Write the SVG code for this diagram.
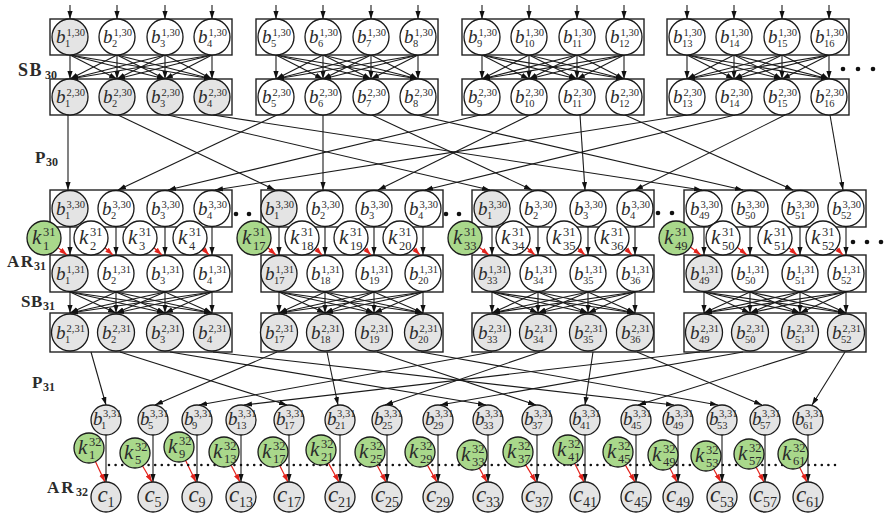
<svg xmlns="http://www.w3.org/2000/svg" width="888" height="513" viewBox="0 0 888 513">
<defs>
<marker id="ah" viewBox="0 0 8 6" refX="8" refY="3" markerWidth="8" markerHeight="6" markerUnits="userSpaceOnUse" orient="auto"><path d="M0,0.4L8,3L0,5.6z" fill="#111"/></marker>
<marker id="ahr" viewBox="0 0 8 6" refX="8" refY="3" markerWidth="8" markerHeight="6" markerUnits="userSpaceOnUse" orient="auto"><path d="M0,0.4L8,3L0,5.6z" fill="#e3221b"/></marker>
</defs>
<style>
.box{fill:none;stroke:#222;stroke-width:1.4}
.ln path{stroke:#1a1a1a;stroke-width:1.1;fill:none;marker-end:url(#ah)}
.rd path{stroke:#e3221b;stroke-width:1.2;fill:none;marker-end:url(#ahr)}
.cw{fill:#fff;stroke:#1a1a1a;stroke-width:1.3}
.cg{fill:#e4e4e4;stroke:#1a1a1a;stroke-width:1.3}
.ck{fill:#a9d88b;stroke:#1a1a1a;stroke-width:1.3}
text{font-family:"Liberation Serif","Times New Roman",serif;fill:#2b2b2b}
.v{font-style:italic;font-size:19px}
.s{font-style:normal;font-size:10.5px}
.kv{font-style:italic;font-size:21px}
.ks{font-style:normal;font-size:12.5px}
.cv{font-style:italic;font-size:23px}
.cs{font-style:normal;font-size:14px}
.lab{font-weight:bold;font-size:17px;fill:#111}
.lsub{font-size:12px;letter-spacing:0}
.dot{fill:#111}
</style>
<rect width="888" height="513" fill="#fff"/>

<!-- register blocks -->
<g id="blocks" class="box">
<rect x="50" y="19" width="182" height="36"/><rect x="256" y="19" width="182" height="36"/><rect x="462" y="19" width="182" height="36"/><rect x="667" y="19" width="182" height="36"/>
<rect x="50" y="79" width="182" height="36"/><rect x="256" y="79" width="182" height="36"/><rect x="462" y="79" width="182" height="36"/><rect x="667" y="79" width="182" height="36"/>
<rect x="50" y="190" width="182" height="37"/><rect x="261" y="190" width="182" height="37"/><rect x="472" y="190" width="182" height="37"/><rect x="684" y="190" width="182" height="37"/>
<rect x="50" y="255" width="182" height="37"/><rect x="261" y="255" width="182" height="37"/><rect x="472" y="255" width="182" height="37"/><rect x="684" y="255" width="182" height="37"/>
<rect x="50" y="313" width="182" height="39"/><rect x="261" y="313" width="182" height="39"/><rect x="472" y="313" width="182" height="39"/><rect x="684" y="313" width="182" height="39"/>
</g>

<!-- connectors -->
<g id="connectors">
<g class="ln">
<!-- inputs -->
<path d="M70 5V19"/><path d="M117 5V19"/><path d="M165 5V19"/><path d="M212 5V19"/>
<path d="M276 5V19"/><path d="M323 5V19"/><path d="M371 5V19"/><path d="M418 5V19"/>
<path d="M482 5V19"/><path d="M529 5V19"/><path d="M577 5V19"/><path d="M624 5V19"/>
<path d="M687 5V19"/><path d="M734 5V19"/><path d="M782 5V19"/><path d="M829 5V19"/>
<!-- SB30 -->
<path d="M70 55L70 79"/><path d="M70 55L117 79"/><path d="M70 55L165 79"/><path d="M70 55L212 79"/>
<path d="M117 55L70 79"/><path d="M117 55L117 79"/><path d="M117 55L165 79"/><path d="M117 55L212 79"/>
<path d="M165 55L70 79"/><path d="M165 55L117 79"/><path d="M165 55L165 79"/><path d="M165 55L212 79"/>
<path d="M212 55L70 79"/><path d="M212 55L117 79"/><path d="M212 55L165 79"/><path d="M212 55L212 79"/>
<path d="M276 55L276 79"/><path d="M276 55L323 79"/><path d="M276 55L371 79"/><path d="M276 55L418 79"/>
<path d="M323 55L276 79"/><path d="M323 55L323 79"/><path d="M323 55L371 79"/><path d="M323 55L418 79"/>
<path d="M371 55L276 79"/><path d="M371 55L323 79"/><path d="M371 55L371 79"/><path d="M371 55L418 79"/>
<path d="M418 55L276 79"/><path d="M418 55L323 79"/><path d="M418 55L371 79"/><path d="M418 55L418 79"/>
<path d="M482 55L482 79"/><path d="M482 55L529 79"/><path d="M482 55L577 79"/><path d="M482 55L624 79"/>
<path d="M529 55L482 79"/><path d="M529 55L529 79"/><path d="M529 55L577 79"/><path d="M529 55L624 79"/>
<path d="M577 55L482 79"/><path d="M577 55L529 79"/><path d="M577 55L577 79"/><path d="M577 55L624 79"/>
<path d="M624 55L482 79"/><path d="M624 55L529 79"/><path d="M624 55L577 79"/><path d="M624 55L624 79"/>
<path d="M687 55L687 79"/><path d="M687 55L734 79"/><path d="M687 55L782 79"/><path d="M687 55L829 79"/>
<path d="M734 55L687 79"/><path d="M734 55L734 79"/><path d="M734 55L782 79"/><path d="M734 55L829 79"/>
<path d="M782 55L687 79"/><path d="M782 55L734 79"/><path d="M782 55L782 79"/><path d="M782 55L829 79"/>
<path d="M829 55L687 79"/><path d="M829 55L734 79"/><path d="M829 55L782 79"/><path d="M829 55L829 79"/>
<!-- P30 -->
<path d="M68 115L68 190"/><path d="M118 115L275 190"/><path d="M168 115L490 190"/><path d="M213 115L702 190"/>
<path d="M277 115L118 190"/><path d="M323 115L323 190"/><path d="M372 115L532 190"/><path d="M417 115L743 190"/>
<path d="M480 115L168 190"/><path d="M530 115L378 190"/><path d="M580 115L585 190"/><path d="M625 115L793 190"/>
<path d="M687 115L215 190"/><path d="M735 115L425 190"/><path d="M785 115L635 190"/><path d="M830 115L843 190"/>
<!-- AR31 state path -->
<path d="M70 227V255"/><path d="M116 227V255"/><path d="M165 227V255"/><path d="M212 227V255"/>
<path d="M279 227V255"/><path d="M325 227V255"/><path d="M374 227V255"/><path d="M423 227V255"/>
<path d="M492 227V255"/><path d="M538 227V255"/><path d="M588 227V255"/><path d="M635 227V255"/>
<path d="M704 227V255"/><path d="M750 227V255"/><path d="M800 227V255"/><path d="M846 227V255"/>
<!-- SB31 -->
<path d="M70 292L70 313"/><path d="M70 292L116 313"/><path d="M70 292L165 313"/><path d="M70 292L212 313"/>
<path d="M116 292L70 313"/><path d="M116 292L116 313"/><path d="M116 292L165 313"/><path d="M116 292L212 313"/>
<path d="M165 292L70 313"/><path d="M165 292L116 313"/><path d="M165 292L165 313"/><path d="M165 292L212 313"/>
<path d="M212 292L70 313"/><path d="M212 292L116 313"/><path d="M212 292L165 313"/><path d="M212 292L212 313"/>
<path d="M279 292L279 313"/><path d="M279 292L325 313"/><path d="M279 292L374 313"/><path d="M279 292L423 313"/>
<path d="M325 292L279 313"/><path d="M325 292L325 313"/><path d="M325 292L374 313"/><path d="M325 292L423 313"/>
<path d="M374 292L279 313"/><path d="M374 292L325 313"/><path d="M374 292L374 313"/><path d="M374 292L423 313"/>
<path d="M423 292L279 313"/><path d="M423 292L325 313"/><path d="M423 292L374 313"/><path d="M423 292L423 313"/>
<path d="M492 292L492 313"/><path d="M492 292L538 313"/><path d="M492 292L588 313"/><path d="M492 292L635 313"/>
<path d="M538 292L492 313"/><path d="M538 292L538 313"/><path d="M538 292L588 313"/><path d="M538 292L635 313"/>
<path d="M588 292L492 313"/><path d="M588 292L538 313"/><path d="M588 292L588 313"/><path d="M588 292L635 313"/>
<path d="M635 292L492 313"/><path d="M635 292L538 313"/><path d="M635 292L588 313"/><path d="M635 292L635 313"/>
<path d="M704 292L704 313"/><path d="M704 292L750 313"/><path d="M704 292L800 313"/><path d="M704 292L846 313"/>
<path d="M750 292L704 313"/><path d="M750 292L750 313"/><path d="M750 292L800 313"/><path d="M750 292L846 313"/>
<path d="M800 292L704 313"/><path d="M800 292L750 313"/><path d="M800 292L800 313"/><path d="M800 292L846 313"/>
<path d="M846 292L704 313"/><path d="M846 292L750 313"/><path d="M846 292L800 313"/><path d="M846 292L846 313"/>
<!-- P31 -->
<path d="M91 352L106 405"/><path d="M120 352L287 405"/><path d="M170 352L486 405"/><path d="M213 352L674 405"/>
<path d="M277 352L155 405"/><path d="M327 352L338 405"/><path d="M377 352L536 405"/><path d="M421 352L718 405"/>
<path d="M492 352L199 405"/><path d="M540 352L385 405"/><path d="M593 352L585 405"/><path d="M637 352L762 405"/>
<path d="M700 352L244 405"/><path d="M743 352L440 405"/><path d="M807 352L638 405"/><path d="M845 352L812 405"/>
<!-- AR32 state path -->
<path d="M106 435V482"/><path d="M153 435V482"/><path d="M197 435V482"/><path d="M241 435V482"/>
<path d="M289 435V482"/><path d="M340 435V482"/><path d="M387 435V482"/><path d="M438 435V482"/>
<path d="M488 435V482"/><path d="M537 435V482"/><path d="M585 435V482"/><path d="M636 435V482"/>
<path d="M678 435V482"/><path d="M722 435V482"/><path d="M765 435V482"/><path d="M808 435V482"/>
</g>
<!-- round keys -->
<g class="rd">
<path d="M58.1 247.6L67 255"/><path d="M104.9 247.8L113 255"/><path d="M153.9 247.8L162 255"/><path d="M203.2 248.7L209 255"/>
<path d="M267.9 247.8L276 255"/><path d="M315.5 248.4L322 255"/><path d="M364.5 248.4L371 255"/><path d="M413.5 248.4L420 255"/>
<path d="M479.2 247.3L489 255"/><path d="M526.9 247.8L535 255"/><path d="M577.7 248.1L585 255"/><path d="M625.5 248.4L632 255"/>
<path d="M690.4 247.1L701 255"/><path d="M737.2 247.3L747 255"/><path d="M788.9 247.8L797 255"/><path d="M836.5 248.4L843 255"/>
<path d="M95.4 461.6L105 482"/><path d="M142.6 466L152 482"/><path d="M185.6 460.5L196 482"/><path d="M231.1 465.2L240 482"/>
<path d="M279.7 465.4L288 482"/><path d="M328.4 463.1L339 482"/><path d="M377.1 465.2L386 482"/><path d="M427.4 465.1L437 482"/>
<path d="M479.3 468.1L487 482"/><path d="M525.7 464.9L536 482"/><path d="M574.7 463.4L584 482"/><path d="M625.4 465.1L635 482"/>
<path d="M669.9 468.3L677 482"/><path d="M713.5 469L721 482"/><path d="M756.1 467.2L764 482"/><path d="M799.7 467.4L807 482"/>
</g>
</g>

<!-- ellipsis marks -->
<g id="ellipses" class="dot">
<circle cx="843" cy="69" r="2.3"/><circle cx="858" cy="69" r="2.3"/><circle cx="873" cy="69" r="2.3"/>
<circle cx="236" cy="214" r="2.3"/><circle cx="249" cy="214" r="2.3"/>
<circle cx="446" cy="214" r="2.3"/><circle cx="459" cy="214" r="2.3"/>
<circle cx="658" cy="213" r="2.3"/><circle cx="672" cy="213" r="2.3"/>
<circle cx="853" cy="242" r="2.3"/><circle cx="867" cy="242" r="2.3"/><circle cx="881" cy="242" r="2.3"/>
<line x1="109" y1="465" x2="836" y2="465" stroke="#111" stroke-width="2.6" stroke-linecap="round" stroke-dasharray="0 6.6"/>
</g>

<!-- SB30 inputs -->
<g id="row-b130">
<g id="n1-1" transform="translate(70 37)"><circle class="cg" r="18"/><text class="v" x="-14" y="6">b<tspan class="s" x="-3.5" y="-1">1,30</tspan><tspan class="s" x="-5" y="10">1</tspan></text></g>
<g id="n1-2" transform="translate(117 37)"><circle class="cw" r="18"/><text class="v" x="-14" y="6">b<tspan class="s" x="-3.5" y="-1">1,30</tspan><tspan class="s" x="-5" y="10">2</tspan></text></g>
<g id="n1-3" transform="translate(165 37)"><circle class="cw" r="18"/><text class="v" x="-14" y="6">b<tspan class="s" x="-3.5" y="-1">1,30</tspan><tspan class="s" x="-5" y="10">3</tspan></text></g>
<g id="n1-4" transform="translate(212 37)"><circle class="cw" r="18"/><text class="v" x="-14" y="6">b<tspan class="s" x="-3.5" y="-1">1,30</tspan><tspan class="s" x="-5" y="10">4</tspan></text></g>
<g id="n1-5" transform="translate(276 37)"><circle class="cw" r="18"/><text class="v" x="-14" y="6">b<tspan class="s" x="-3.5" y="-1">1,30</tspan><tspan class="s" x="-5" y="10">5</tspan></text></g>
<g id="n1-6" transform="translate(323 37)"><circle class="cw" r="18"/><text class="v" x="-14" y="6">b<tspan class="s" x="-3.5" y="-1">1,30</tspan><tspan class="s" x="-5" y="10">6</tspan></text></g>
<g id="n1-7" transform="translate(371 37)"><circle class="cw" r="18"/><text class="v" x="-14" y="6">b<tspan class="s" x="-3.5" y="-1">1,30</tspan><tspan class="s" x="-5" y="10">7</tspan></text></g>
<g id="n1-8" transform="translate(418 37)"><circle class="cw" r="18"/><text class="v" x="-14" y="6">b<tspan class="s" x="-3.5" y="-1">1,30</tspan><tspan class="s" x="-5" y="10">8</tspan></text></g>
<g id="n1-9" transform="translate(482 37)"><circle class="cw" r="18"/><text class="v" x="-14" y="6">b<tspan class="s" x="-3.5" y="-1">1,30</tspan><tspan class="s" x="-5" y="10">9</tspan></text></g>
<g id="n1-10" transform="translate(529 37)"><circle class="cw" r="18"/><text class="v" x="-14" y="6">b<tspan class="s" x="-3.5" y="-1">1,30</tspan><tspan class="s" x="-5" y="10">10</tspan></text></g>
<g id="n1-11" transform="translate(577 37)"><circle class="cw" r="18"/><text class="v" x="-14" y="6">b<tspan class="s" x="-3.5" y="-1">1,30</tspan><tspan class="s" x="-5" y="10">11</tspan></text></g>
<g id="n1-12" transform="translate(624 37)"><circle class="cw" r="18"/><text class="v" x="-14" y="6">b<tspan class="s" x="-3.5" y="-1">1,30</tspan><tspan class="s" x="-5" y="10">12</tspan></text></g>
<g id="n1-13" transform="translate(687 37)"><circle class="cw" r="18"/><text class="v" x="-14" y="6">b<tspan class="s" x="-3.5" y="-1">1,30</tspan><tspan class="s" x="-5" y="10">13</tspan></text></g>
<g id="n1-14" transform="translate(734 37)"><circle class="cw" r="18"/><text class="v" x="-14" y="6">b<tspan class="s" x="-3.5" y="-1">1,30</tspan><tspan class="s" x="-5" y="10">14</tspan></text></g>
<g id="n1-15" transform="translate(782 37)"><circle class="cw" r="18"/><text class="v" x="-14" y="6">b<tspan class="s" x="-3.5" y="-1">1,30</tspan><tspan class="s" x="-5" y="10">15</tspan></text></g>
<g id="n1-16" transform="translate(829 37)"><circle class="cw" r="18"/><text class="v" x="-14" y="6">b<tspan class="s" x="-3.5" y="-1">1,30</tspan><tspan class="s" x="-5" y="10">16</tspan></text></g>
</g>

<!-- SB30 outputs -->
<g id="row-b230">
<g id="n2-1" transform="translate(70 97)"><circle class="cg" r="18"/><text class="v" x="-14" y="6">b<tspan class="s" x="-3.5" y="-1">2,30</tspan><tspan class="s" x="-5" y="10">1</tspan></text></g>
<g id="n2-2" transform="translate(117 97)"><circle class="cg" r="18"/><text class="v" x="-14" y="6">b<tspan class="s" x="-3.5" y="-1">2,30</tspan><tspan class="s" x="-5" y="10">2</tspan></text></g>
<g id="n2-3" transform="translate(165 97)"><circle class="cg" r="18"/><text class="v" x="-14" y="6">b<tspan class="s" x="-3.5" y="-1">2,30</tspan><tspan class="s" x="-5" y="10">3</tspan></text></g>
<g id="n2-4" transform="translate(212 97)"><circle class="cg" r="18"/><text class="v" x="-14" y="6">b<tspan class="s" x="-3.5" y="-1">2,30</tspan><tspan class="s" x="-5" y="10">4</tspan></text></g>
<g id="n2-5" transform="translate(276 97)"><circle class="cw" r="18"/><text class="v" x="-14" y="6">b<tspan class="s" x="-3.5" y="-1">2,30</tspan><tspan class="s" x="-5" y="10">5</tspan></text></g>
<g id="n2-6" transform="translate(323 97)"><circle class="cw" r="18"/><text class="v" x="-14" y="6">b<tspan class="s" x="-3.5" y="-1">2,30</tspan><tspan class="s" x="-5" y="10">6</tspan></text></g>
<g id="n2-7" transform="translate(371 97)"><circle class="cw" r="18"/><text class="v" x="-14" y="6">b<tspan class="s" x="-3.5" y="-1">2,30</tspan><tspan class="s" x="-5" y="10">7</tspan></text></g>
<g id="n2-8" transform="translate(418 97)"><circle class="cw" r="18"/><text class="v" x="-14" y="6">b<tspan class="s" x="-3.5" y="-1">2,30</tspan><tspan class="s" x="-5" y="10">8</tspan></text></g>
<g id="n2-9" transform="translate(482 97)"><circle class="cw" r="18"/><text class="v" x="-14" y="6">b<tspan class="s" x="-3.5" y="-1">2,30</tspan><tspan class="s" x="-5" y="10">9</tspan></text></g>
<g id="n2-10" transform="translate(529 97)"><circle class="cw" r="18"/><text class="v" x="-14" y="6">b<tspan class="s" x="-3.5" y="-1">2,30</tspan><tspan class="s" x="-5" y="10">10</tspan></text></g>
<g id="n2-11" transform="translate(577 97)"><circle class="cw" r="18"/><text class="v" x="-14" y="6">b<tspan class="s" x="-3.5" y="-1">2,30</tspan><tspan class="s" x="-5" y="10">11</tspan></text></g>
<g id="n2-12" transform="translate(624 97)"><circle class="cw" r="18"/><text class="v" x="-14" y="6">b<tspan class="s" x="-3.5" y="-1">2,30</tspan><tspan class="s" x="-5" y="10">12</tspan></text></g>
<g id="n2-13" transform="translate(687 97)"><circle class="cw" r="18"/><text class="v" x="-14" y="6">b<tspan class="s" x="-3.5" y="-1">2,30</tspan><tspan class="s" x="-5" y="10">13</tspan></text></g>
<g id="n2-14" transform="translate(734 97)"><circle class="cw" r="18"/><text class="v" x="-14" y="6">b<tspan class="s" x="-3.5" y="-1">2,30</tspan><tspan class="s" x="-5" y="10">14</tspan></text></g>
<g id="n2-15" transform="translate(782 97)"><circle class="cw" r="18"/><text class="v" x="-14" y="6">b<tspan class="s" x="-3.5" y="-1">2,30</tspan><tspan class="s" x="-5" y="10">15</tspan></text></g>
<g id="n2-16" transform="translate(829 97)"><circle class="cw" r="18"/><text class="v" x="-14" y="6">b<tspan class="s" x="-3.5" y="-1">2,30</tspan><tspan class="s" x="-5" y="10">16</tspan></text></g>
</g>

<!-- P30 outputs -->
<g id="row-b330">
<g id="n3-1" transform="translate(70 208.5)"><circle class="cg" r="18"/><text class="v" x="-14" y="6">b<tspan class="s" x="-3.5" y="-1">3,30</tspan><tspan class="s" x="-5" y="10">1</tspan></text></g>
<g id="n3-2" transform="translate(116 208.5)"><circle class="cw" r="18"/><text class="v" x="-14" y="6">b<tspan class="s" x="-3.5" y="-1">3,30</tspan><tspan class="s" x="-5" y="10">2</tspan></text></g>
<g id="n3-3" transform="translate(165 208.5)"><circle class="cw" r="18"/><text class="v" x="-14" y="6">b<tspan class="s" x="-3.5" y="-1">3,30</tspan><tspan class="s" x="-5" y="10">3</tspan></text></g>
<g id="n3-4" transform="translate(212 208.5)"><circle class="cw" r="18"/><text class="v" x="-14" y="6">b<tspan class="s" x="-3.5" y="-1">3,30</tspan><tspan class="s" x="-5" y="10">4</tspan></text></g>
<g id="n3-5" transform="translate(279 208.5)"><circle class="cg" r="18"/><text class="v" x="-14" y="6">b<tspan class="s" x="-3.5" y="-1">3,30</tspan><tspan class="s" x="-5" y="10">1</tspan></text></g>
<g id="n3-6" transform="translate(325 208.5)"><circle class="cw" r="18"/><text class="v" x="-14" y="6">b<tspan class="s" x="-3.5" y="-1">3,30</tspan><tspan class="s" x="-5" y="10">2</tspan></text></g>
<g id="n3-7" transform="translate(374 208.5)"><circle class="cw" r="18"/><text class="v" x="-14" y="6">b<tspan class="s" x="-3.5" y="-1">3,30</tspan><tspan class="s" x="-5" y="10">3</tspan></text></g>
<g id="n3-8" transform="translate(423 208.5)"><circle class="cw" r="18"/><text class="v" x="-14" y="6">b<tspan class="s" x="-3.5" y="-1">3,30</tspan><tspan class="s" x="-5" y="10">4</tspan></text></g>
<g id="n3-9" transform="translate(492 208.5)"><circle class="cg" r="18"/><text class="v" x="-14" y="6">b<tspan class="s" x="-3.5" y="-1">3,30</tspan><tspan class="s" x="-5" y="10">1</tspan></text></g>
<g id="n3-10" transform="translate(538 208.5)"><circle class="cw" r="18"/><text class="v" x="-14" y="6">b<tspan class="s" x="-3.5" y="-1">3,30</tspan><tspan class="s" x="-5" y="10">2</tspan></text></g>
<g id="n3-11" transform="translate(588 208.5)"><circle class="cw" r="18"/><text class="v" x="-14" y="6">b<tspan class="s" x="-3.5" y="-1">3,30</tspan><tspan class="s" x="-5" y="10">3</tspan></text></g>
<g id="n3-12" transform="translate(635 208.5)"><circle class="cw" r="18"/><text class="v" x="-14" y="6">b<tspan class="s" x="-3.5" y="-1">3,30</tspan><tspan class="s" x="-5" y="10">4</tspan></text></g>
<g id="n3-13" transform="translate(704 208.5)"><circle class="cw" r="18"/><text class="v" x="-14" y="6">b<tspan class="s" x="-3.5" y="-1">3,30</tspan><tspan class="s" x="-5" y="10">49</tspan></text></g>
<g id="n3-14" transform="translate(750 208.5)"><circle class="cw" r="18"/><text class="v" x="-14" y="6">b<tspan class="s" x="-3.5" y="-1">3,30</tspan><tspan class="s" x="-5" y="10">50</tspan></text></g>
<g id="n3-15" transform="translate(800 208.5)"><circle class="cw" r="18"/><text class="v" x="-14" y="6">b<tspan class="s" x="-3.5" y="-1">3,30</tspan><tspan class="s" x="-5" y="10">51</tspan></text></g>
<g id="n3-16" transform="translate(846 208.5)"><circle class="cw" r="18"/><text class="v" x="-14" y="6">b<tspan class="s" x="-3.5" y="-1">3,30</tspan><tspan class="s" x="-5" y="10">52</tspan></text></g>
</g>

<!-- round-31 key bits -->
<g id="row-k31">
<g id="k31-1" transform="translate(44 238)"><circle class="ck" r="17"/><text class="kv" x="-12" y="6">k<tspan class="ks" x="-1" y="-2">31</tspan><tspan class="ks" x="-1" y="12">1</tspan></text></g>
<g id="k31-2" transform="translate(91 238)"><circle class="cw" r="17"/><text class="kv" x="-12" y="6">k<tspan class="ks" x="-1" y="-2">31</tspan><tspan class="ks" x="-1" y="12">2</tspan></text></g>
<g id="k31-3" transform="translate(140 238)"><circle class="cw" r="17"/><text class="kv" x="-12" y="6">k<tspan class="ks" x="-1" y="-2">31</tspan><tspan class="ks" x="-1" y="12">3</tspan></text></g>
<g id="k31-4" transform="translate(190 238)"><circle class="cw" r="17"/><text class="kv" x="-12" y="6">k<tspan class="ks" x="-1" y="-2">31</tspan><tspan class="ks" x="-1" y="12">4</tspan></text></g>
<g id="k31-17" transform="translate(254 238)"><circle class="ck" r="17"/><text class="kv" x="-12" y="6">k<tspan class="ks" x="-1" y="-2">31</tspan><tspan class="ks" x="-1" y="12">17</tspan></text></g>
<g id="k31-18" transform="translate(302 238)"><circle class="cw" r="17"/><text class="kv" x="-12" y="6">k<tspan class="ks" x="-1" y="-2">31</tspan><tspan class="ks" x="-1" y="12">18</tspan></text></g>
<g id="k31-19" transform="translate(351 238)"><circle class="cw" r="17"/><text class="kv" x="-12" y="6">k<tspan class="ks" x="-1" y="-2">31</tspan><tspan class="ks" x="-1" y="12">19</tspan></text></g>
<g id="k31-20" transform="translate(400 238)"><circle class="cw" r="17"/><text class="kv" x="-12" y="6">k<tspan class="ks" x="-1" y="-2">31</tspan><tspan class="ks" x="-1" y="12">20</tspan></text></g>
<g id="k31-33" transform="translate(465 238)"><circle class="ck" r="17"/><text class="kv" x="-12" y="6">k<tspan class="ks" x="-1" y="-2">31</tspan><tspan class="ks" x="-1" y="12">33</tspan></text></g>
<g id="k31-34" transform="translate(513 238)"><circle class="cw" r="17"/><text class="kv" x="-12" y="6">k<tspan class="ks" x="-1" y="-2">31</tspan><tspan class="ks" x="-1" y="12">34</tspan></text></g>
<g id="k31-35" transform="translate(564 238)"><circle class="cw" r="17"/><text class="kv" x="-12" y="6">k<tspan class="ks" x="-1" y="-2">31</tspan><tspan class="ks" x="-1" y="12">35</tspan></text></g>
<g id="k31-36" transform="translate(612 238)"><circle class="cw" r="17"/><text class="kv" x="-12" y="6">k<tspan class="ks" x="-1" y="-2">31</tspan><tspan class="ks" x="-1" y="12">36</tspan></text></g>
<g id="k31-49" transform="translate(676 238)"><circle class="ck" r="17"/><text class="kv" x="-12" y="6">k<tspan class="ks" x="-1" y="-2">31</tspan><tspan class="ks" x="-1" y="12">49</tspan></text></g>
<g id="k31-50" transform="translate(723 238)"><circle class="cw" r="17"/><text class="kv" x="-12" y="6">k<tspan class="ks" x="-1" y="-2">31</tspan><tspan class="ks" x="-1" y="12">50</tspan></text></g>
<g id="k31-51" transform="translate(775 238)"><circle class="cw" r="17"/><text class="kv" x="-12" y="6">k<tspan class="ks" x="-1" y="-2">31</tspan><tspan class="ks" x="-1" y="12">51</tspan></text></g>
<g id="k31-52" transform="translate(823 238)"><circle class="cw" r="17"/><text class="kv" x="-12" y="6">k<tspan class="ks" x="-1" y="-2">31</tspan><tspan class="ks" x="-1" y="12">52</tspan></text></g>
</g>

<!-- AR31 outputs -->
<g id="row-b131">
<g id="n4-1" transform="translate(70 273.5)"><circle class="cg" r="18"/><text class="v" x="-14" y="6">b<tspan class="s" x="-3.5" y="-1">1,31</tspan><tspan class="s" x="-5" y="10">1</tspan></text></g>
<g id="n4-2" transform="translate(116 273.5)"><circle class="cw" r="18"/><text class="v" x="-14" y="6">b<tspan class="s" x="-3.5" y="-1">1,31</tspan><tspan class="s" x="-5" y="10">2</tspan></text></g>
<g id="n4-3" transform="translate(165 273.5)"><circle class="cw" r="18"/><text class="v" x="-14" y="6">b<tspan class="s" x="-3.5" y="-1">1,31</tspan><tspan class="s" x="-5" y="10">3</tspan></text></g>
<g id="n4-4" transform="translate(212 273.5)"><circle class="cw" r="18"/><text class="v" x="-14" y="6">b<tspan class="s" x="-3.5" y="-1">1,31</tspan><tspan class="s" x="-5" y="10">4</tspan></text></g>
<g id="n4-17" transform="translate(279 273.5)"><circle class="cg" r="18"/><text class="v" x="-14" y="6">b<tspan class="s" x="-3.5" y="-1">1,31</tspan><tspan class="s" x="-5" y="10">17</tspan></text></g>
<g id="n4-18" transform="translate(325 273.5)"><circle class="cw" r="18"/><text class="v" x="-14" y="6">b<tspan class="s" x="-3.5" y="-1">1,31</tspan><tspan class="s" x="-5" y="10">18</tspan></text></g>
<g id="n4-19" transform="translate(374 273.5)"><circle class="cw" r="18"/><text class="v" x="-14" y="6">b<tspan class="s" x="-3.5" y="-1">1,31</tspan><tspan class="s" x="-5" y="10">19</tspan></text></g>
<g id="n4-20" transform="translate(423 273.5)"><circle class="cw" r="18"/><text class="v" x="-14" y="6">b<tspan class="s" x="-3.5" y="-1">1,31</tspan><tspan class="s" x="-5" y="10">20</tspan></text></g>
<g id="n4-33" transform="translate(492 273.5)"><circle class="cg" r="18"/><text class="v" x="-14" y="6">b<tspan class="s" x="-3.5" y="-1">1,31</tspan><tspan class="s" x="-5" y="10">33</tspan></text></g>
<g id="n4-34" transform="translate(538 273.5)"><circle class="cw" r="18"/><text class="v" x="-14" y="6">b<tspan class="s" x="-3.5" y="-1">1,31</tspan><tspan class="s" x="-5" y="10">34</tspan></text></g>
<g id="n4-35" transform="translate(588 273.5)"><circle class="cw" r="18"/><text class="v" x="-14" y="6">b<tspan class="s" x="-3.5" y="-1">1,31</tspan><tspan class="s" x="-5" y="10">35</tspan></text></g>
<g id="n4-36" transform="translate(635 273.5)"><circle class="cw" r="18"/><text class="v" x="-14" y="6">b<tspan class="s" x="-3.5" y="-1">1,31</tspan><tspan class="s" x="-5" y="10">36</tspan></text></g>
<g id="n4-49" transform="translate(704 273.5)"><circle class="cg" r="18"/><text class="v" x="-14" y="6">b<tspan class="s" x="-3.5" y="-1">1,31</tspan><tspan class="s" x="-5" y="10">49</tspan></text></g>
<g id="n4-50" transform="translate(750 273.5)"><circle class="cw" r="18"/><text class="v" x="-14" y="6">b<tspan class="s" x="-3.5" y="-1">1,31</tspan><tspan class="s" x="-5" y="10">50</tspan></text></g>
<g id="n4-51" transform="translate(800 273.5)"><circle class="cw" r="18"/><text class="v" x="-14" y="6">b<tspan class="s" x="-3.5" y="-1">1,31</tspan><tspan class="s" x="-5" y="10">51</tspan></text></g>
<g id="n4-52" transform="translate(846 273.5)"><circle class="cw" r="18"/><text class="v" x="-14" y="6">b<tspan class="s" x="-3.5" y="-1">1,31</tspan><tspan class="s" x="-5" y="10">52</tspan></text></g>
</g>

<!-- SB31 outputs -->
<g id="row-b231">
<g id="n5-1" transform="translate(70 332.5)"><circle class="cg" r="18.5"/><text class="v" x="-14" y="6">b<tspan class="s" x="-3.5" y="-1">2,31</tspan><tspan class="s" x="-5" y="10">1</tspan></text></g>
<g id="n5-2" transform="translate(116 332.5)"><circle class="cg" r="18.5"/><text class="v" x="-14" y="6">b<tspan class="s" x="-3.5" y="-1">2,31</tspan><tspan class="s" x="-5" y="10">2</tspan></text></g>
<g id="n5-3" transform="translate(165 332.5)"><circle class="cg" r="18.5"/><text class="v" x="-14" y="6">b<tspan class="s" x="-3.5" y="-1">2,31</tspan><tspan class="s" x="-5" y="10">3</tspan></text></g>
<g id="n5-4" transform="translate(212 332.5)"><circle class="cg" r="18.5"/><text class="v" x="-14" y="6">b<tspan class="s" x="-3.5" y="-1">2,31</tspan><tspan class="s" x="-5" y="10">4</tspan></text></g>
<g id="n5-17" transform="translate(279 332.5)"><circle class="cg" r="18.5"/><text class="v" x="-14" y="6">b<tspan class="s" x="-3.5" y="-1">2,31</tspan><tspan class="s" x="-5" y="10">17</tspan></text></g>
<g id="n5-18" transform="translate(325 332.5)"><circle class="cg" r="18.5"/><text class="v" x="-14" y="6">b<tspan class="s" x="-3.5" y="-1">2,31</tspan><tspan class="s" x="-5" y="10">18</tspan></text></g>
<g id="n5-19" transform="translate(374 332.5)"><circle class="cg" r="18.5"/><text class="v" x="-14" y="6">b<tspan class="s" x="-3.5" y="-1">2,31</tspan><tspan class="s" x="-5" y="10">19</tspan></text></g>
<g id="n5-20" transform="translate(423 332.5)"><circle class="cg" r="18.5"/><text class="v" x="-14" y="6">b<tspan class="s" x="-3.5" y="-1">2,31</tspan><tspan class="s" x="-5" y="10">20</tspan></text></g>
<g id="n5-33" transform="translate(492 332.5)"><circle class="cg" r="18.5"/><text class="v" x="-14" y="6">b<tspan class="s" x="-3.5" y="-1">2,31</tspan><tspan class="s" x="-5" y="10">33</tspan></text></g>
<g id="n5-34" transform="translate(538 332.5)"><circle class="cg" r="18.5"/><text class="v" x="-14" y="6">b<tspan class="s" x="-3.5" y="-1">2,31</tspan><tspan class="s" x="-5" y="10">34</tspan></text></g>
<g id="n5-35" transform="translate(588 332.5)"><circle class="cg" r="18.5"/><text class="v" x="-14" y="6">b<tspan class="s" x="-3.5" y="-1">2,31</tspan><tspan class="s" x="-5" y="10">35</tspan></text></g>
<g id="n5-36" transform="translate(635 332.5)"><circle class="cg" r="18.5"/><text class="v" x="-14" y="6">b<tspan class="s" x="-3.5" y="-1">2,31</tspan><tspan class="s" x="-5" y="10">36</tspan></text></g>
<g id="n5-49" transform="translate(704 332.5)"><circle class="cg" r="18.5"/><text class="v" x="-14" y="6">b<tspan class="s" x="-3.5" y="-1">2,31</tspan><tspan class="s" x="-5" y="10">49</tspan></text></g>
<g id="n5-50" transform="translate(750 332.5)"><circle class="cg" r="18.5"/><text class="v" x="-14" y="6">b<tspan class="s" x="-3.5" y="-1">2,31</tspan><tspan class="s" x="-5" y="10">50</tspan></text></g>
<g id="n5-51" transform="translate(800 332.5)"><circle class="cg" r="18.5"/><text class="v" x="-14" y="6">b<tspan class="s" x="-3.5" y="-1">2,31</tspan><tspan class="s" x="-5" y="10">51</tspan></text></g>
<g id="n5-52" transform="translate(846 332.5)"><circle class="cg" r="18.5"/><text class="v" x="-14" y="6">b<tspan class="s" x="-3.5" y="-1">2,31</tspan><tspan class="s" x="-5" y="10">52</tspan></text></g>
</g>

<!-- P31 outputs -->
<g id="row-b331">
<g id="n6-1" transform="translate(106 420)"><circle class="cg" r="15"/><text class="v" x="-13" y="5">b<tspan class="s" x="-3" y="-3">3,31</tspan><tspan class="s" x="-5" y="9">1</tspan></text></g>
<g id="n6-5" transform="translate(153 420)"><circle class="cg" r="15"/><text class="v" x="-13" y="5">b<tspan class="s" x="-3" y="-3">3,31</tspan><tspan class="s" x="-5" y="9">5</tspan></text></g>
<g id="n6-9" transform="translate(197 420)"><circle class="cg" r="15"/><text class="v" x="-13" y="5">b<tspan class="s" x="-3" y="-3">3,31</tspan><tspan class="s" x="-5" y="9">9</tspan></text></g>
<g id="n6-13" transform="translate(241 420)"><circle class="cg" r="15"/><text class="v" x="-13" y="5">b<tspan class="s" x="-3" y="-3">3,31</tspan><tspan class="s" x="-5" y="9">13</tspan></text></g>
<g id="n6-17" transform="translate(289 420)"><circle class="cg" r="15"/><text class="v" x="-13" y="5">b<tspan class="s" x="-3" y="-3">3,31</tspan><tspan class="s" x="-5" y="9">17</tspan></text></g>
<g id="n6-21" transform="translate(340 420)"><circle class="cg" r="15"/><text class="v" x="-13" y="5">b<tspan class="s" x="-3" y="-3">3,31</tspan><tspan class="s" x="-5" y="9">21</tspan></text></g>
<g id="n6-25" transform="translate(387 420)"><circle class="cg" r="15"/><text class="v" x="-13" y="5">b<tspan class="s" x="-3" y="-3">3,31</tspan><tspan class="s" x="-5" y="9">25</tspan></text></g>
<g id="n6-29" transform="translate(438 420)"><circle class="cg" r="15"/><text class="v" x="-13" y="5">b<tspan class="s" x="-3" y="-3">3,31</tspan><tspan class="s" x="-5" y="9">29</tspan></text></g>
<g id="n6-33" transform="translate(488 420)"><circle class="cg" r="15"/><text class="v" x="-13" y="5">b<tspan class="s" x="-3" y="-3">3,31</tspan><tspan class="s" x="-5" y="9">33</tspan></text></g>
<g id="n6-37" transform="translate(537 420)"><circle class="cg" r="15"/><text class="v" x="-13" y="5">b<tspan class="s" x="-3" y="-3">3,31</tspan><tspan class="s" x="-5" y="9">37</tspan></text></g>
<g id="n6-41" transform="translate(585 420)"><circle class="cg" r="15"/><text class="v" x="-13" y="5">b<tspan class="s" x="-3" y="-3">3,31</tspan><tspan class="s" x="-5" y="9">41</tspan></text></g>
<g id="n6-45" transform="translate(636 420)"><circle class="cg" r="15"/><text class="v" x="-13" y="5">b<tspan class="s" x="-3" y="-3">3,31</tspan><tspan class="s" x="-5" y="9">45</tspan></text></g>
<g id="n6-49" transform="translate(678 420)"><circle class="cg" r="15"/><text class="v" x="-13" y="5">b<tspan class="s" x="-3" y="-3">3,31</tspan><tspan class="s" x="-5" y="9">49</tspan></text></g>
<g id="n6-53" transform="translate(722 420)"><circle class="cg" r="15"/><text class="v" x="-13" y="5">b<tspan class="s" x="-3" y="-3">3,31</tspan><tspan class="s" x="-5" y="9">53</tspan></text></g>
<g id="n6-57" transform="translate(765 420)"><circle class="cg" r="15"/><text class="v" x="-13" y="5">b<tspan class="s" x="-3" y="-3">3,31</tspan><tspan class="s" x="-5" y="9">57</tspan></text></g>
<g id="n6-61" transform="translate(808 420)"><circle class="cg" r="15"/><text class="v" x="-13" y="5">b<tspan class="s" x="-3" y="-3">3,31</tspan><tspan class="s" x="-5" y="9">61</tspan></text></g>
</g>

<!-- round-32 key bits -->
<g id="row-k32">
<g id="k32-1" transform="translate(89 448)"><circle class="ck" r="15"/><text class="kv" x="-11" y="6">k<tspan class="ks" x="0" y="-2">32</tspan><tspan class="ks" x="0" y="11">1</tspan></text></g>
<g id="k32-5" transform="translate(135 453)"><circle class="ck" r="15"/><text class="kv" x="-11" y="6">k<tspan class="ks" x="0" y="-2">32</tspan><tspan class="ks" x="0" y="11">5</tspan></text></g>
<g id="k32-9" transform="translate(179 447)"><circle class="ck" r="15"/><text class="kv" x="-11" y="6">k<tspan class="ks" x="0" y="-2">32</tspan><tspan class="ks" x="0" y="11">9</tspan></text></g>
<g id="k32-13" transform="translate(224 452)"><circle class="ck" r="15"/><text class="kv" x="-11" y="6">k<tspan class="ks" x="0" y="-2">32</tspan><tspan class="ks" x="0" y="11">13</tspan></text></g>
<g id="k32-17" transform="translate(273 452)"><circle class="ck" r="15"/><text class="kv" x="-11" y="6">k<tspan class="ks" x="0" y="-2">32</tspan><tspan class="ks" x="0" y="11">17</tspan></text></g>
<g id="k32-21" transform="translate(321 450)"><circle class="ck" r="15"/><text class="kv" x="-11" y="6">k<tspan class="ks" x="0" y="-2">32</tspan><tspan class="ks" x="0" y="11">21</tspan></text></g>
<g id="k32-25" transform="translate(370 452)"><circle class="ck" r="15"/><text class="kv" x="-11" y="6">k<tspan class="ks" x="0" y="-2">32</tspan><tspan class="ks" x="0" y="11">25</tspan></text></g>
<g id="k32-29" transform="translate(420 452)"><circle class="ck" r="15"/><text class="kv" x="-11" y="6">k<tspan class="ks" x="0" y="-2">32</tspan><tspan class="ks" x="0" y="11">29</tspan></text></g>
<g id="k32-33" transform="translate(472 455)"><circle class="ck" r="15"/><text class="kv" x="-11" y="6">k<tspan class="ks" x="0" y="-2">32</tspan><tspan class="ks" x="0" y="11">33</tspan></text></g>
<g id="k32-37" transform="translate(518 452)"><circle class="ck" r="15"/><text class="kv" x="-11" y="6">k<tspan class="ks" x="0" y="-2">32</tspan><tspan class="ks" x="0" y="11">37</tspan></text></g>
<g id="k32-41" transform="translate(568 450)"><circle class="ck" r="15"/><text class="kv" x="-11" y="6">k<tspan class="ks" x="0" y="-2">32</tspan><tspan class="ks" x="0" y="11">41</tspan></text></g>
<g id="k32-45" transform="translate(618 452)"><circle class="ck" r="15"/><text class="kv" x="-11" y="6">k<tspan class="ks" x="0" y="-2">32</tspan><tspan class="ks" x="0" y="11">45</tspan></text></g>
<g id="k32-49" transform="translate(663 455)"><circle class="ck" r="15"/><text class="kv" x="-11" y="6">k<tspan class="ks" x="0" y="-2">32</tspan><tspan class="ks" x="0" y="11">49</tspan></text></g>
<g id="k32-53" transform="translate(706 456)"><circle class="ck" r="15"/><text class="kv" x="-11" y="6">k<tspan class="ks" x="0" y="-2">32</tspan><tspan class="ks" x="0" y="11">53</tspan></text></g>
<g id="k32-57" transform="translate(749 454)"><circle class="ck" r="15"/><text class="kv" x="-11" y="6">k<tspan class="ks" x="0" y="-2">32</tspan><tspan class="ks" x="0" y="11">57</tspan></text></g>
<g id="k32-61" transform="translate(793 454)"><circle class="ck" r="15"/><text class="kv" x="-11" y="6">k<tspan class="ks" x="0" y="-2">32</tspan><tspan class="ks" x="0" y="11">61</tspan></text></g>
</g>

<!-- ciphertext bits -->
<g id="row-c">
<g id="c-1" transform="translate(106 497)"><circle class="cg" r="15"/><text class="cv" x="0" y="5" text-anchor="middle">c<tspan class="cs" dy="5">1</tspan></text></g>
<g id="c-5" transform="translate(153 497)"><circle class="cg" r="15"/><text class="cv" x="0" y="5" text-anchor="middle">c<tspan class="cs" dy="5">5</tspan></text></g>
<g id="c-9" transform="translate(197 497)"><circle class="cg" r="15"/><text class="cv" x="0" y="5" text-anchor="middle">c<tspan class="cs" dy="5">9</tspan></text></g>
<g id="c-13" transform="translate(241 497)"><circle class="cg" r="15"/><text class="cv" x="0" y="5" text-anchor="middle">c<tspan class="cs" dy="5">13</tspan></text></g>
<g id="c-17" transform="translate(289 497)"><circle class="cg" r="15"/><text class="cv" x="0" y="5" text-anchor="middle">c<tspan class="cs" dy="5">17</tspan></text></g>
<g id="c-21" transform="translate(340 497)"><circle class="cg" r="15"/><text class="cv" x="0" y="5" text-anchor="middle">c<tspan class="cs" dy="5">21</tspan></text></g>
<g id="c-25" transform="translate(387 497)"><circle class="cg" r="15"/><text class="cv" x="0" y="5" text-anchor="middle">c<tspan class="cs" dy="5">25</tspan></text></g>
<g id="c-29" transform="translate(438 497)"><circle class="cg" r="15"/><text class="cv" x="0" y="5" text-anchor="middle">c<tspan class="cs" dy="5">29</tspan></text></g>
<g id="c-33" transform="translate(488 497)"><circle class="cg" r="15"/><text class="cv" x="0" y="5" text-anchor="middle">c<tspan class="cs" dy="5">33</tspan></text></g>
<g id="c-37" transform="translate(537 497)"><circle class="cg" r="15"/><text class="cv" x="0" y="5" text-anchor="middle">c<tspan class="cs" dy="5">37</tspan></text></g>
<g id="c-41" transform="translate(585 497)"><circle class="cg" r="15"/><text class="cv" x="0" y="5" text-anchor="middle">c<tspan class="cs" dy="5">41</tspan></text></g>
<g id="c-45" transform="translate(636 497)"><circle class="cg" r="15"/><text class="cv" x="0" y="5" text-anchor="middle">c<tspan class="cs" dy="5">45</tspan></text></g>
<g id="c-49" transform="translate(678 497)"><circle class="cg" r="15"/><text class="cv" x="0" y="5" text-anchor="middle">c<tspan class="cs" dy="5">49</tspan></text></g>
<g id="c-53" transform="translate(722 497)"><circle class="cg" r="15"/><text class="cv" x="0" y="5" text-anchor="middle">c<tspan class="cs" dy="5">53</tspan></text></g>
<g id="c-57" transform="translate(765 497)"><circle class="cg" r="15"/><text class="cv" x="0" y="5" text-anchor="middle">c<tspan class="cs" dy="5">57</tspan></text></g>
<g id="c-61" transform="translate(808 497)"><circle class="cg" r="15"/><text class="cv" x="0" y="5" text-anchor="middle">c<tspan class="cs" dy="5">61</tspan></text></g>
</g>

<!-- layer labels -->
<g id="labels" class="lab">
<text x="18" y="76" font-size="18" letter-spacing="1.5">SB<tspan class="lsub" x="45" y="79">30</tspan></text>
<text x="35" y="163">P<tspan class="lsub" x="46" y="166">30</tspan></text>
<text x="7" y="267" letter-spacing="1.5">AR<tspan class="lsub" x="34" y="270">31</tspan></text>
<text x="21" y="307" letter-spacing="0.5">SB<tspan class="lsub" x="43" y="310">31</tspan></text>
<text x="32" y="388">P<tspan class="lsub" x="43" y="391">31</tspan></text>
<text x="47" y="493" letter-spacing="2">AR<tspan class="lsub" x="76" y="496">32</tspan></text>
</g>
</svg>
